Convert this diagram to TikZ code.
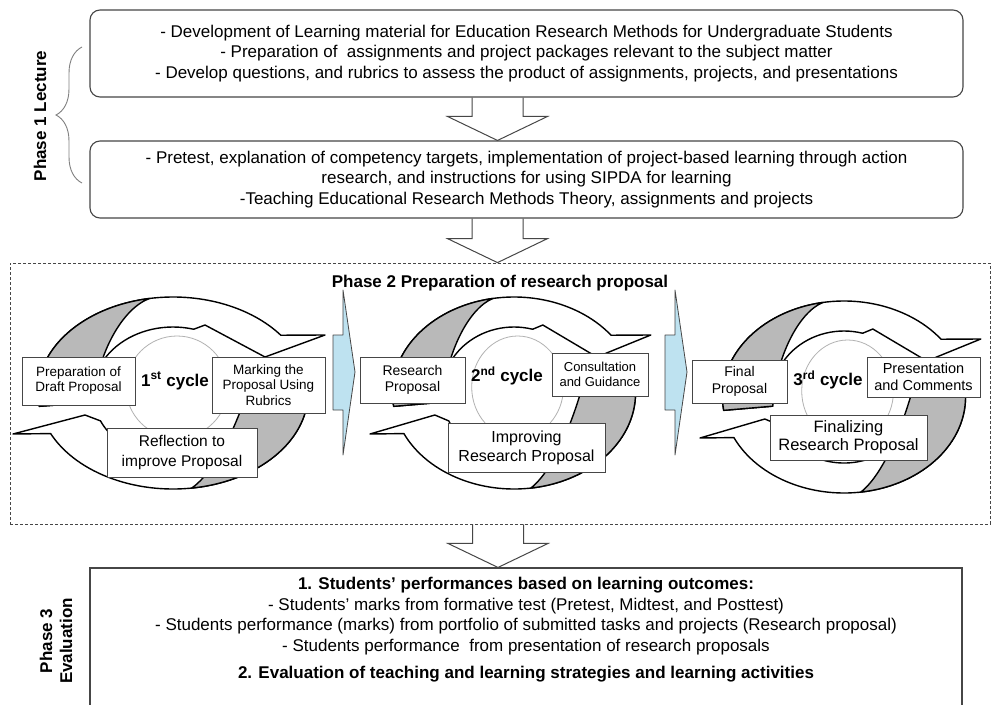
\documentclass[tikz,border=0pt]{standalone}
\usepackage{fontspec}
\setmainfont{Liberation Sans}
\usetikzlibrary{calc,decorations.pathreplacing}
\definecolor{linegray}{RGB}{70,70,70}
\definecolor{ribbongray}{RGB}{185,185,185}
\definecolor{stepblue}{RGB}{190,226,240}
\tikzset{
    lecbox/.style={draw=linegray, line width=1.1pt, rounded corners=10pt, minimum width=873, align=center, font=\fontsize{17}{20.5}\selectfont},
    evalbox/.style={draw=linegray, line width=1.1pt, minimum width=872, minimum height=160},
    phasebox/.style={draw=linegray, dash pattern=on 3pt off 2pt, line width=0.8pt, minimum width=980, minimum height=261},
    hollow/.style={draw=linegray, line width=1pt},
    ribbon/.style={fill=white, draw=black, line width=1.4pt, line join=round},
    twist/.style={fill=ribbongray, draw=black, line width=1.4pt, line join=round},
    hub/.style={draw=gray!60, line width=0.8pt},
    cyclebox/.style={draw=linegray, fill=white, line width=1pt, align=center, inner sep=1pt},
    cyclelabel/.style={font=\bfseries\fontsize{17}{20}\selectfont},
    phaselabel/.style={rotate=90, align=center, font=\bfseries\fontsize{17}{20}\selectfont},
    passarrow/.style={fill=stepblue, draw=linegray, line width=0.8pt, line join=round},
  }
% block arrow pointing down, #1 = top of shaft, #2 = tip
\newcommand{\hollowdown}[2]{%
  \draw[hollow] let \p1=#1, \p2=#2 in
    (\x1-25.5,\y1) -- (\x1-25.5,\y2+24) -- (\x1-50,\y2+24) -- (\x1,\y2)
    -- (\x1+50,\y2+24) -- (\x1+25.5,\y2+24) -- (\x1+25.5,\y1);}
% two ribbon arrows round a hub, local axes with y upwards
\newcommand{\cyclering}{%
  \draw[hub] (4,6) circle[radius=51];
  %lower arrow
  \path[ribbon] (12:135 and 96) arc[start angle=12, end angle=-155, x radius=135, y radius=96]
    -- (-160,-41) -- (-88,-22) -- (205:80 and 66)
    arc[start angle=205, end angle=372, x radius=80, y radius=66] -- cycle;
  \path[twist] (12:135 and 96) arc[start angle=12, end angle=-82, x radius=135, y radius=96]
    .. controls (40,-80) and (62,-40) .. (12:80 and 66) -- cycle;
  %upper arrow
  \path[ribbon] (188:135 and 96) arc[start angle=188, end angle=37, x radius=135, y radius=96]
    -- (152,58) -- (92,36) -- (32,68) -- (75:80 and 66)
    arc[start angle=75, end angle=188, x radius=80, y radius=66] -- cycle;
  \path[twist] (188:135 and 96) arc[start angle=188, end angle=100, x radius=135, y radius=96]
    .. controls (-50,85) and (-76,40) .. (188:80 and 66) -- cycle;
}
\begin{document}
\begin{tikzpicture}[x=1pt,y=-1pt]
  \clip (0,0) rectangle (993,704);
  \fill[white] (0,0) rectangle (993,704);

  %PHASE 1
  \node[lecbox, minimum height=87] (dev) at (526.5,53.5) {- Development of Learning material for Education Research Methods for Undergraduate Students\\
    - Preparation of~ assignments and project packages relevant to the subject matter\\
    - Develop questions, and rubrics to assess the product of assignments, projects, and presentations};
  \node[lecbox, minimum height=77] (teach) at (526.5,179.5) {- Pretest, explanation of competency targets, implementation of project-based learning through action\\
    research, and instructions for using SIPDA for learning\\
    -Teaching Educational Research Methods Theory, assignments and projects};
  \draw[draw=gray, line width=0.9pt, decorate, decoration={brace, amplitude=26pt}] (82,183) -- (82,47);
  \node[phaselabel] (lecture) at (40,116) {Phase 1 Lecture};
  \hollowdown{($(dev.south)+(-29,0)$)}{($(teach.north)+(-29,0)$)}

  %PHASE 2
  \node[phasebox] (prop) at (500,393.5) {};
  \node[font=\bfseries\fontsize{17}{20}\selectfont] (proptitle) at (500,283) {Phase 2 Preparation of research proposal};
  \hollowdown{($(teach.south)+(-29,0)$)}{($(prop.north)+(-2,0)$)}

  %cycles
  \begin{scope}[shift={(173,393)}, yscale=-1]
    \cyclering
  \end{scope}
  \begin{scope}[shift={(514,393)}, yscale=-1, xscale=0.9]
    \cyclering
  \end{scope}
  \begin{scope}[shift={(844,397)}, yscale=-1, xscale=0.9]
    \cyclering
  \end{scope}
  \draw[passarrow] (333,335) -- ++(10,0) -- ++(0,-45) -- ++(12,82) -- ++(-12,83) -- ++(0,-45) -- ++(-10,0) -- cycle;
  \draw[passarrow] (665,335) -- ++(10,0) -- ++(0,-45) -- ++(12,82) -- ++(-12,83) -- ++(0,-45) -- ++(-10,0) -- cycle;

  \node[cyclebox, minimum width=113, minimum height=48, font=\fontsize{13.5}{15}\selectfont] (draft1) at (78.5,381) {Preparation of\\Draft Proposal};
  \node[cyclebox, minimum width=113, minimum height=56, font=\fontsize{13.5}{15.5}\selectfont] (mark1) at (268.5,385) {Marking the\\Proposal Using\\Rubrics};
  \node[cyclebox, minimum width=150, minimum height=49, font=\fontsize{15.5}{20}\selectfont] (reflect1) at (182,452.5) {Reflection to\\improve Proposal};
  \node[cyclelabel] (cyc1) at (175,381) {1\textsuperscript{st} cycle};

  \node[cyclebox, minimum width=105, minimum height=46, font=\fontsize{14}{15.5}\selectfont] (draft2) at (412.5,380) {Research\\Proposal};
  \node[cyclebox, minimum width=96, minimum height=43, font=\fontsize{13}{15}\selectfont] (consult2) at (600,374.5) {Consultation\\and Guidance};
  \node[cyclebox, minimum width=157, minimum height=49, font=\fontsize{16}{19}\selectfont] (improve2) at (526.5,447.5) {Improving\\Research Proposal};
  \node[cyclelabel] (cyc2) at (507,376) {2\textsuperscript{nd} cycle};

  \node[cyclebox, minimum width=95, minimum height=43, font=\fontsize{14}{17}\selectfont] (final3) at (739.5,381.5) {Final\\Proposal};
  \node[cyclebox, minimum width=113, minimum height=40, font=\fontsize{14.5}{17}\selectfont] (present3) at (923.5,377) {Presentation\\and Comments};
  \node[cyclebox, minimum width=157, minimum height=45, font=\fontsize{16.5}{18}\selectfont] (finalize3) at (848.5,437.5) {Finalizing\\Research Proposal};
  \node[cyclelabel] (cyc3) at (828,380) {3\textsuperscript{rd} cycle};

  %PHASE 3
  \node[evalbox] (eval) at (526,648) {};
  \hollowdown{($(prop.south)+(-2,0)$)}{($(eval.north)+(-28,0)$)}
  \node[align=center, font=\fontsize{17}{20.5}\selectfont] (evaltext) at (526,630) {\textbf{1. Students' performances based on learning outcomes:}\\
    - Students' marks from formative test (Pretest, Midtest, and Posttest)\\
    - Students performance (marks) from portfolio of submitted tasks and projects (Research proposal)\\
    - Students performance~ from presentation of research proposals\\[7pt]
    \textbf{2. Evaluation of teaching and learning strategies and learning activities}};
  \node[phaselabel] (evalphase) at (56,641) {Phase 3\\Evaluation};
\end{tikzpicture}
\end{document}
